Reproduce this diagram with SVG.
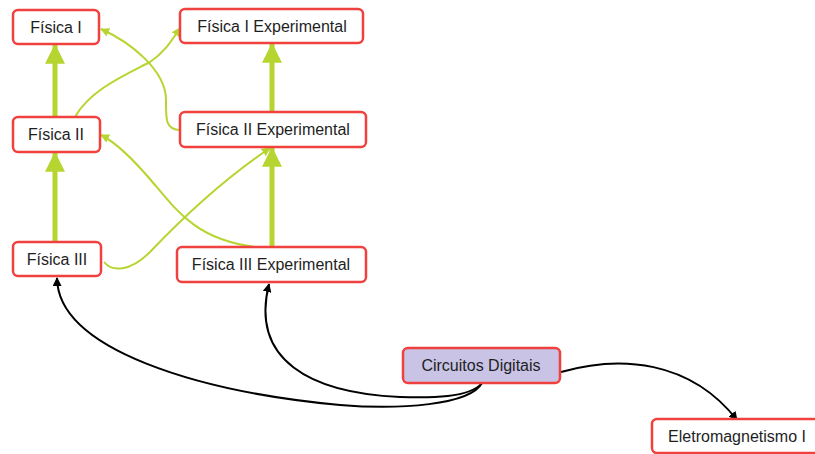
<svg xmlns="http://www.w3.org/2000/svg" width="815" height="454" viewBox="0 0 815 454">
<style>
.box{fill:#ffffff;stroke:#f0413f;stroke-width:2.5}
.hl{fill:#c9c3e6}
.t{font-family:"Liberation Sans",Arial,sans-serif;font-size:16px;fill:#1e1e1e;text-anchor:middle;dominant-baseline:central}
.thick{fill:none;stroke:#b6d531;stroke-width:5}
.thin{fill:none;stroke:#b6d531;stroke-width:2}
.blk{fill:none;stroke:#000000;stroke-width:2}
</style>
<defs>
<marker id="big" markerUnits="userSpaceOnUse" markerWidth="20" markerHeight="20" viewBox="0 0 16 16" refX="15" refY="8" orient="auto">
<path d="M0,0 L16,8 L0,16 Z" fill="#b6d531"/>
</marker>
<marker id="sg" markerUnits="userSpaceOnUse" markerWidth="9" markerHeight="9" viewBox="0 0 10 10" refX="9" refY="5" orient="auto">
<path d="M0,0 L10,5 L0,10 Z" fill="#b6d531"/>
</marker>
<marker id="sb" markerUnits="userSpaceOnUse" markerWidth="9" markerHeight="9" viewBox="0 0 10 10" refX="9" refY="5" orient="auto">
<path d="M0,0 L10,5 L0,10 Z" fill="#000000"/>
</marker>
</defs>
<g id="connectors">
<path class="thick" d="M55,117 L55,45" marker-end="url(#big)"/>
<path class="thick" d="M55,242 L55,153" marker-end="url(#big)"/>
<path class="thick" d="M272,112 L272,44" marker-end="url(#big)"/>
<path class="thick" d="M272,247 L272,148" marker-end="url(#big)"/>
<path class="thin" d="M75,117 C90,90 125,75 150,62 C165,52 172,40 180,28" marker-end="url(#sg)"/>
<path class="thin" d="M180,130 C165,130 166,118 166,100 C166,70 130,42 101,29" marker-end="url(#sg)"/>
<path class="thin" d="M255,247 C200,240 180,215 155,185 C130,155 115,142 101,135" marker-end="url(#sg)"/>
<path class="thin" d="M104,262 C112,272 130,272 150,252 C190,210 230,175 270,148" marker-end="url(#sg)"/>
<path class="blk" d="M482,383 C470,405 400,410 340,405 C200,392 58,350 57,278" marker-end="url(#sb)"/>
<path class="blk" d="M482,383 C470,398 430,398 400,397 C310,393 250,360 269,284" marker-end="url(#sb)"/>
<path class="blk" d="M561,372 C620,355 690,360 737,420" marker-end="url(#sb)"/>
</g>
<g id="n-fisica1"><rect class="box" x="13" y="10" width="86" height="34" rx="5"/><text class="t" x="56" y="27">Física I</text></g>
<g id="n-fisica1exp"><rect class="box" x="180" y="9" width="183" height="34" rx="5"/><text class="t" x="272" y="26">Física I Experimental</text></g>
<g id="n-fisica2"><rect class="box" x="13" y="117" width="87" height="35" rx="5"/><text class="t" x="56" y="134">Física II</text></g>
<g id="n-fisica2exp"><rect class="box" x="180" y="112" width="186" height="35" rx="5"/><text class="t" x="273" y="129">Física II Experimental</text></g>
<g id="n-fisica3"><rect class="box" x="13" y="242" width="88" height="34" rx="5"/><text class="t" x="57" y="259">Física III</text></g>
<g id="n-fisica3exp"><rect class="box" x="177" y="247" width="189" height="35" rx="5"/><text class="t" x="271" y="264">Física III Experimental</text></g>
<g id="n-circuitos"><rect class="box hl" x="403" y="348" width="157" height="35" rx="5"/><text class="t" x="481" y="365">Circuitos Digitais</text></g>
<g id="n-eletro"><rect class="box" x="652" y="419" width="170" height="34" rx="5"/><text class="t" x="737" y="436">Eletromagnetismo I</text></g>
</svg>
